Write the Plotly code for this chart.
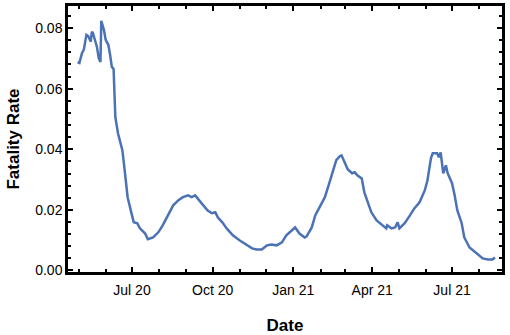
import plotly.graph_objects as go

dates = [
    "2020-04-30", "2020-05-02", "2020-05-05", "2020-05-07", "2020-05-10", "2020-05-12",
    "2020-05-15", "2020-05-16", "2020-05-17", "2020-05-19", "2020-05-22", "2020-05-24",
    "2020-05-26", "2020-05-27", "2020-05-30", "2020-06-01", "2020-06-04", "2020-06-06",
    "2020-06-08", "2020-06-10", "2020-06-11", "2020-06-12", "2020-06-15", "2020-06-20",
    "2020-06-23", "2020-06-26", "2020-07-01", "2020-07-03", "2020-07-07", "2020-07-10",
    "2020-07-16", "2020-07-19", "2020-07-25", "2020-07-31", "2020-08-05", "2020-08-11",
    "2020-08-17", "2020-08-23", "2020-08-28", "2020-09-03", "2020-09-07", "2020-09-11",
    "2020-09-14", "2020-09-19", "2020-09-25", "2020-09-30", "2020-10-04", "2020-10-07",
    "2020-10-12", "2020-10-17", "2020-10-24", "2020-11-01", "2020-11-09", "2020-11-15",
    "2020-11-20", "2020-11-26", "2020-12-02", "2020-12-07", "2020-12-13", "2020-12-19",
    "2020-12-24", "2020-12-31", "2021-01-03", "2021-01-08", "2021-01-14", "2021-01-16",
    "2021-01-22", "2021-01-26", "2021-01-31", "2021-02-06", "2021-02-11", "2021-02-15",
    "2021-02-19", "2021-02-23", "2021-02-25", "2021-03-01", "2021-03-04", "2021-03-09",
    "2021-03-12", "2021-03-15", "2021-03-20", "2021-03-23", "2021-03-27", "2021-03-31",
    "2021-04-06", "2021-04-12", "2021-04-17", "2021-04-18", "2021-04-23", "2021-04-27",
    "2021-04-30", "2021-05-02", "2021-05-08", "2021-05-14", "2021-05-19", "2021-05-25",
    "2021-05-31", "2021-06-03", "2021-06-07", "2021-06-09", "2021-06-14", "2021-06-16",
    "2021-06-18", "2021-06-21", "2021-06-24", "2021-06-26", "2021-07-01", "2021-07-04",
    "2021-07-07", "2021-07-12", "2021-07-15", "2021-07-21", "2021-07-29", "2021-08-05",
    "2021-08-11", "2021-08-16", "2021-08-19",
]

fatality_rate = [
    0.0688, 0.0685, 0.0718, 0.0728, 0.0778, 0.0774,
    0.0755, 0.0784, 0.0788, 0.0771, 0.0738, 0.0702,
    0.0688, 0.0824, 0.0794, 0.0761, 0.0745, 0.0712,
    0.0672, 0.0665, 0.0600, 0.0506, 0.0453, 0.0397,
    0.0321, 0.0242, 0.0182, 0.0159, 0.0156, 0.0139,
    0.0122, 0.0103, 0.0109, 0.0126, 0.0149, 0.0182,
    0.0215, 0.0232, 0.0242, 0.0248, 0.0242, 0.0248,
    0.0238, 0.0222, 0.0199, 0.0189, 0.0192, 0.0175,
    0.0159, 0.0139, 0.0116, 0.0099, 0.0083, 0.0073,
    0.0069, 0.0069, 0.0083, 0.0086, 0.0083, 0.0093,
    0.0116, 0.0136, 0.0142, 0.0122, 0.0109, 0.0112,
    0.0142, 0.0182, 0.0209, 0.0242, 0.0288, 0.0324,
    0.0364, 0.0377, 0.0380, 0.0354, 0.0334, 0.0321,
    0.0324, 0.0314, 0.0304, 0.0258, 0.0225, 0.0192,
    0.0165, 0.0149, 0.0139, 0.0149, 0.0139, 0.0142,
    0.0159, 0.0139, 0.0156, 0.0182, 0.0205, 0.0225,
    0.0265, 0.0298, 0.0371, 0.0387, 0.0387, 0.0374,
    0.0390, 0.0321, 0.0347, 0.0321, 0.0288, 0.0248,
    0.0199, 0.0156, 0.0109, 0.0076, 0.0056, 0.0040,
    0.0036, 0.0036, 0.0043,
]

x_range = ["2020-04-19", "2021-08-27"]
y_range = [-0.0005, 0.0873]

FONT = "Liberation Sans, Arial, sans-serif"

fig = go.Figure()
fig.add_trace(go.Scatter(
    x=dates, y=fatality_rate, mode="lines",
    line=dict(color="#4A72B5", width=2.5),
    showlegend=False,
))

axis_common = dict(
    showline=True, linecolor="black", linewidth=2.5, mirror="allticks",
    ticks="inside", tickcolor="black", tickwidth=2, ticklen=5,
    showgrid=False, zeroline=False, automargin=False,
    tickfont=dict(family=FONT, size=14, color="black"),
)

fig.update_xaxes(
    **axis_common,
    range=x_range,
    tick0="2020-07-01", dtick="M3", tickformat="%b %y",
    ticklabelstandoff=3,
    minor=dict(ticks="inside", dtick="M1", ticklen=3, tickwidth=1.5, tickcolor="black", showgrid=False),
    title=dict(text="<b>Date</b>", font=dict(family=FONT, size=17, color="black"), standoff=24),
)
fig.update_yaxes(
    **axis_common,
    range=y_range,
    tick0=0, dtick=0.02, tickformat=".2f",
    minor=dict(ticks="inside", dtick=0.004, ticklen=3, tickwidth=1.5, tickcolor="black", showgrid=False),
    title=dict(text="<b>Fatality Rate</b>", font=dict(family=FONT, size=17, color="black"), standoff=12),
)

fig.update_layout(
    width=510, height=335,
    margin=dict(l=68, r=8, t=6, b=63),
    plot_bgcolor="white", paper_bgcolor="white",
)

fig.write_html(
    "out.html",
    config={"displayModeBar": False},
    post_script="document.body.style.margin='0px';",
)
